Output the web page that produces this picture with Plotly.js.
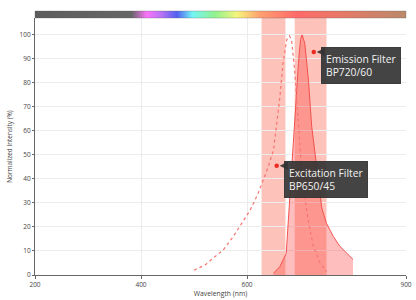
<!DOCTYPE html>
<html>
<head>
<meta charset="utf-8">
<script src="https://cdn.plot.ly/plotly-3.0.1.min.js"></script>
<style>html,body{margin:0;padding:0;background:#fff;}#chart{width:416px;height:300px;}</style>
</head>
<body>
<div id="chart"></div>
<script>
// Excitation spectrum (dotted)
const exWavelength = [500, 521, 536, 555, 574, 590, 606, 621, 631, 640, 650, 656, 662, 668, 675, 680, 684, 690, 697, 703, 713, 725, 738, 750];
const exIntensity  = [2.0, 4.2, 7.0, 10.4, 16, 21.5, 27, 34, 39.6, 45, 52, 62, 74, 88, 98, 99.6, 98, 85, 65, 44, 26, 12, 5, 1.4];
// Emission spectrum (filled)
const emWavelength = [650, 662, 674, 678, 684, 691, 697, 701, 704, 709, 716, 722, 732, 741, 750, 763, 775, 788, 800];
const emIntensity  = [0.7, 3.5, 9, 23, 44, 65, 88, 98, 100, 96.5, 81, 62, 44, 28, 21.5, 16, 12, 9, 6.5];
// Filters
const filterNames  = ["Excitation Filter", "Emission Filter"];
const filterCodes  = ["BP650/45", "BP720/60"];
const filterCenter = [650, 720];
const filterWidth  = [45, 60];
const labelX = [656, 726];
const labelY = [45.5, 92.8];
// Axis ticks
const xTicks = [200, 400, 600, 900];
const yTicks = [0, 10, 20, 30, 40, 50, 60, 70, 80, 90, 100];
// Spectrum colour bar stops
const barStops = [[200,'#5c5c5c'],[382,'#676767'],[411,'#fb74fb'],[440,'#b374f4'],[468,'#5260f2'],[497,'#74f6f6'],[540,'#92f28e'],[581,'#f6f67c'],[625,'#ffa070'],[694,'#ff6a6a'],[770,'#ea7868'],[900,'#ba8a6a']];

const cv = document.createElement('canvas');
cv.width = 700; cv.height = 4;
const ctx = cv.getContext('2d');
const grad = ctx.createLinearGradient(0,0,700,0);
barStops.forEach(s => grad.addColorStop((s[0]-200)/700, s[1]));
ctx.fillStyle = grad; ctx.fillRect(0,0,700,4);
const barURL = cv.toDataURL();

const plotH = 300 - 18 - 25;
const shapes = filterCenter.map((c,i) => ({
  type:'rect', xref:'x', yref:'paper', x0:c-filterWidth[i]/2, x1:c+filterWidth[i]/2, y0:0, y1:1,
  fillcolor:'rgba(250,120,100,0.45)', line:{width:0}, layer:'between'
}));
shapes.push({type:'rect', xref:'paper', yref:'paper', x0:0, x1:1, y0:1, y1:1+7/plotH, line:{color:'rgba(90,90,90,0.5)', width:0.6}, fillcolor:'rgba(0,0,0,0)'});

const annotations = [];
filterNames.forEach((n,i) => {
  annotations.push({x:labelX[i], y:labelY[i], xref:'x', yref:'y', text:n+'<br>'+filterCodes[i], showarrow:false,
    xanchor:'left', yanchor:'top', xshift:7, yshift:5, align:'left',
    bgcolor:'rgba(52,52,52,0.92)', bordercolor:'rgba(52,52,52,0.92)', borderpad:4,
    font:{family:'Open Sans', size:10.3, color:'#f2f2f2'}});
  annotations.push({x:labelX[i], y:labelY[i], xref:'x', yref:'y', text:'', showarrow:true, ax:7, ay:0,
    arrowhead:2, arrowsize:1, arrowwidth:1.6, arrowcolor:'rgba(52,52,52,0.92)', standoff:3});
});

const traces = [
  {x:emWavelength, y:emIntensity, type:'scatter', mode:'lines', fill:'tozeroy',
   fillcolor:'rgba(255,70,70,0.35)', line:{color:'#f2524e', width:1}},
  {x:exWavelength, y:exIntensity, type:'scatter', mode:'lines',
   line:{color:'#f77470', width:1.2, dash:'dot'}},
  {x:labelX, y:labelY, type:'scatter', mode:'markers', marker:{color:'#ec2a22', size:4.5}}
];

const layout = {
  width:416, height:300, margin:{l:35, r:10, t:18, b:25},
  paper_bgcolor:'#fff', plot_bgcolor:'#fff', showlegend:false, hovermode:false,
  font:{family:'Open Sans', color:'#444'},
  xaxis:{range:[200,900], tickvals:xTicks, ticktext:xTicks.map(String), showgrid:true, gridcolor:'#ececec',
    showline:true, linecolor:'#666', linewidth:1, ticks:'outside', ticklen:3, tickcolor:'#666',
    tickfont:{size:6.5, color:'#444'}, zeroline:false,
    title:{text:'Wavelength (nm)', font:{size:6.8, color:'#444'}, standoff:3}},
  yaxis:{range:[0,107], tickvals:yTicks, showgrid:true, gridcolor:'#ececec',
    showline:true, linecolor:'#666', linewidth:1, ticks:'outside', ticklen:2, tickcolor:'#666',
    tickfont:{size:6.5, color:'#444'}, zeroline:false,
    title:{text:'Normalized Intensity (%)', font:{size:6.4, color:'#444'}, standoff:6}},
  shapes:shapes, annotations:annotations,
  images:[{source:barURL, xref:'paper', yref:'paper', x:0, y:1+7/plotH, sizex:1, sizey:7/plotH,
    sizing:'stretch', xanchor:'left', yanchor:'top', layer:'above'}]
};

Plotly.newPlot('chart', traces, layout, {displayModeBar:false, staticPlot:true});
</script>
</body>
</html>
